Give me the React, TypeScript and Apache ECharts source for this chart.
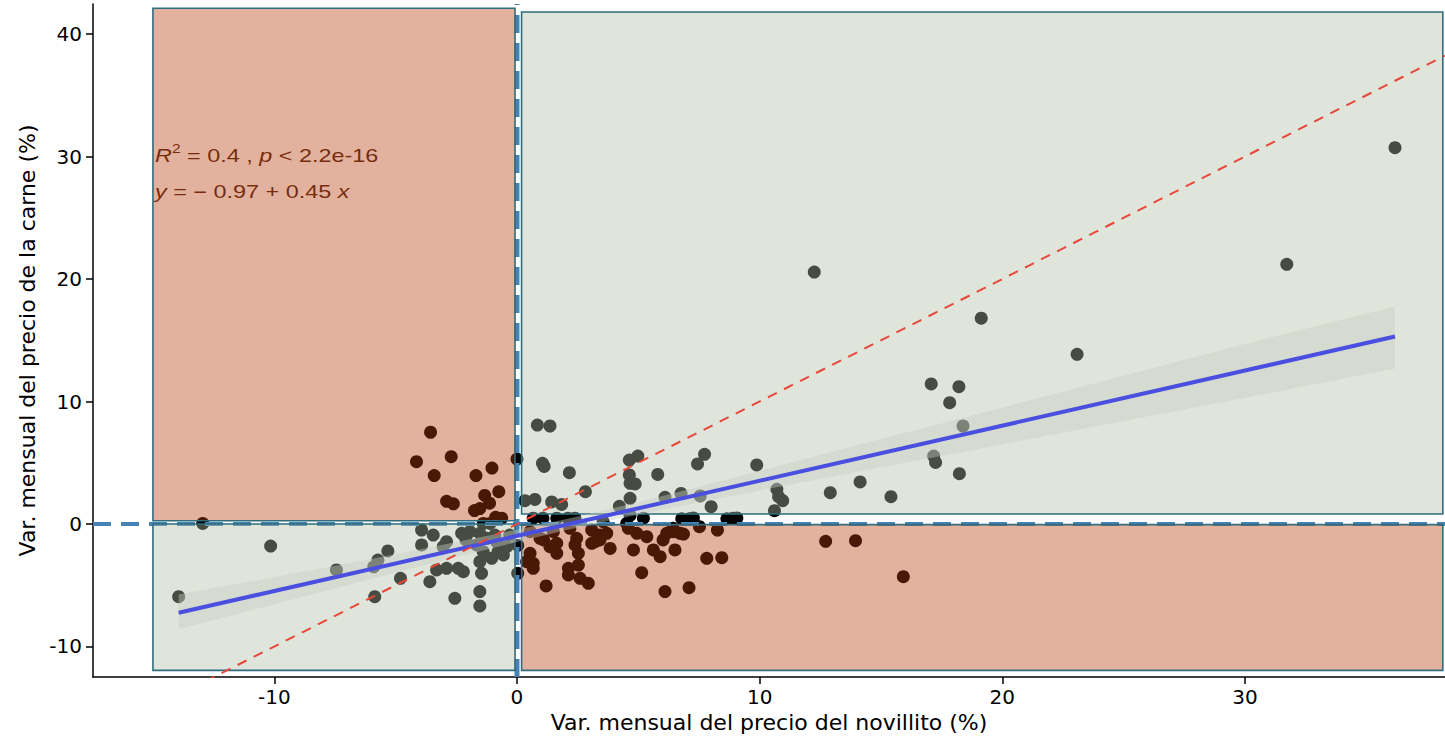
import React, { useEffect, useRef } from "react";
import * as echarts from "echarts";

// ---- data ----
const xTicks = [-10, 0, 10, 20, 30];
const yTicks = [-10, 0, 10, 20, 30, 40];
const xRange = [-17.47, 38.24];
const yRange = [-12.49, 42.45];

// [var. novillito %, var. carne %]
const points: [number, number][] = [
  [-13.94, -5.93], [-12.95, 0.05], [-10.15, -1.8], [-7.44, -3.75], [-5.73, -2.94], [-5.32, -2.2],
  [-5.9, -3.5], [-5.86, -5.93], [-4.8, -4.43],
  [-3.56, 7.49], [-4.14, 5.09], [-2.71, 5.5], [-3.41, 3.95], [-1.69, 3.95], [-1.03, 4.57], [-2.9, 1.85],
  [-2.62, 1.65], [-1.75, 1.1], [-1.53, 1.26], [-1.33, 2.33], [-1.13, 1.7], [-0.75, 2.64], [-0.88, 0.55],
  [-0.63, 0.47],
  [-1.39, 0.05], [-1.11, 0.05],
  [0.0, 5.3], [0.03, -4.03], [0.03, -1.75],
  [-3.93, -0.49], [-3.45, -0.9], [-3.93, -1.71], [-2.9, -1.44], [-3.04, -1.85], [-2.28, -0.76],
  [-1.94, -0.63], [-1.53, -0.76], [-1.25, -1.17], [-0.84, -1.44], [-0.42, -1.85], [-1.66, -1.71],
  [-1.39, -2.26], [-1.04, -2.8], [-0.56, -2.53], [-1.53, -3.08], [-1.46, -4.03], [-3.31, -3.75],
  [-2.9, -3.62], [-2.42, -3.62], [-2.21, -3.89], [-3.59, -4.71], [-2.56, -6.07], [-1.53, -5.52],
  [-1.53, -6.69], [-0.78, -2.26], [-0.91, -0.9], [-2.1, -1.3], [-0.3, -0.9],
  [0.84, 8.08], [1.36, 8.0], [1.05, 4.95], [1.12, 4.7], [2.16, 4.19], [4.63, 5.22], [4.98, 5.55],
  [4.63, 4.0], [4.66, 3.32], [4.87, 3.27], [5.8, 4.05], [2.82, 2.64], [0.33, 1.9], [0.74, 2.01],
  [1.43, 1.8], [1.84, 1.6], [4.66, 2.1], [4.22, 1.44], [7.73, 5.69], [7.44, 4.9], [9.88, 4.82],
  [6.1, 2.18], [6.76, 2.5], [7.55, 2.29], [8.0, 1.41], [10.71, 2.83], [10.78, 2.23], [10.95, 1.9],
  [10.61, 1.09], [12.91, 2.56], [14.14, 3.43], [15.41, 2.23], [17.07, 11.43], [18.21, 11.21],
  [17.83, 9.9], [18.38, 8.0], [17.17, 5.55], [17.25, 5.03], [18.23, 4.11], [12.25, 20.57],
  [19.13, 16.8], [23.08, 13.85], [31.72, 21.2], [36.18, 30.72],
  [0.67, 0.47], [1.07, 0.47], [1.64, 0.47], [2.1, 0.47], [2.39, 0.47], [3.55, 0.19], [4.52, 0.05],
  [5.21, 0.47], [4.66, 0.7], [6.79, 0.42], [7.1, 0.42], [7.27, 0.5], [8.65, 0.42], [8.9, 0.47],
  [9.06, 0.5],
  [0.54, -0.63], [0.95, -1.17], [1.5, -0.63], [1.64, -1.58], [1.36, -1.85], [1.64, -2.39],
  [2.18, -0.35], [2.46, -1.17], [2.39, -1.71], [2.53, -2.39], [3.08, -0.49], [3.08, -1.58],
  [3.42, -1.3], [3.7, -0.76], [3.84, -1.99], [0.54, -2.39], [0.67, -3.21], [0.67, -3.62],
  [2.12, -3.62], [2.12, -4.16], [2.53, -3.35], [2.6, -4.43], [2.94, -4.84], [1.2, -5.06],
  [4.59, -0.35], [4.8, -2.12], [4.94, -0.76], [5.35, -1.04], [5.62, -2.12], [5.9, -2.67],
  [6.17, -0.76], [6.45, -0.63], [6.51, -2.12], [5.14, -3.97], [6.1, -5.52], [0.4, -3.08],
  [6.72, -0.76], [6.86, -0.82], [7.52, -0.22], [8.26, -0.49], [7.82, -2.8], [8.44, -2.75],
  [7.09, -5.2], [6.02, -1.3], [6.43, -0.35], [12.72, -1.41], [13.95, -1.36], [15.92, -4.3],
  [3.22, -1.44], [1.1, -1.3], [3.42, -0.9],
];

// regression fit and its confidence band
const regX = [-13.94, 36.18];
const regY = [-7.24, 15.31];
const bandX = [-13.94, -10, -5, 0, 2, 5, 10, 15, 20, 25, 30, 36.18];
const bandLow = [-8.6, -6.55, -3.95, -1.47, -0.52, 0.78, 2.73, 4.63, 6.5, 8.4, 10.3, 12.7];
const bandHigh = [-5.75, -4.35, -2.47, -0.47, 0.38, 1.78, 4.33, 6.93, 9.5, 12.1, 14.7, 17.75];

// quadrant rectangles
const rectXMin = [-15, 0.19, -15, 0.19];
const rectXMax = [-0.08, 38.15, -0.08, 38.15];
const rectYMin = [0.26, 0.82, -11.95, -11.95];
const rectYMax = [42.1, 41.8, 0.0, -0.05];
const rectKind = ["bad", "good", "good", "bad"];

const FILL: Record<string, string> = {
  bad: "rgba(185,62,15,0.4)",
  good: "rgba(175,190,163,0.4)",
};

export default function App() {
  const ref = useRef<HTMLDivElement>(null);
  useEffect(() => {
    if (!ref.current) return;
    const chart = echarts.init(ref.current, null, { renderer: "svg" });
    const rectData = rectXMin.map((v, i) => [v, rectXMax[i], rectYMin[i], rectYMax[i]]);
    const bandPoly = [
      ...bandX.map((x, i) => [x, bandHigh[i]]),
      ...bandX.map((x, i) => [x, bandLow[i]]).reverse(),
    ];
    const font = "DejaVu Sans";
    const annFont = "Liberation Sans";
    const annColor = "#4a1e0c";
    chart.setOption({
      animation: false,
      grid: { left: 93, right: 0, top: 4, bottom: 66 },
      xAxis: {
        type: "value",
        min: xRange[0],
        max: xRange[1],
        name: "Var. mensual del precio del novillito (%)",
        nameLocation: "middle",
        nameGap: 33,
        nameTextStyle: { fontFamily: font, fontSize: 22, color: "#000" },
        axisLine: { onZero: false, lineStyle: { color: "#000", width: 1.5 } },
        axisTick: { show: true, customValues: xTicks, length: 7, lineStyle: { color: "#000", width: 1.5 } },
        axisLabel: { customValues: xTicks, fontFamily: font, fontSize: 20, color: "#000", margin: 10 },
        splitLine: { show: false },
      },
      yAxis: {
        type: "value",
        min: yRange[0],
        max: yRange[1],
        name: "Var. mensual del precio de la carne (%)",
        nameLocation: "middle",
        nameGap: 55,
        nameTextStyle: { fontFamily: font, fontSize: 22, color: "#000" },
        axisLine: { show: true, onZero: false, lineStyle: { color: "#000", width: 1.5 } },
        axisTick: { show: true, customValues: yTicks, length: 7, lineStyle: { color: "#000", width: 1.5 } },
        axisLabel: { customValues: yTicks, fontFamily: font, fontSize: 20, color: "#000", margin: 11 },
        splitLine: { show: false },
      },
      series: [
        {
          type: "scatter",
          z: 2,
          data: points,
          symbolSize: 13,
          itemStyle: { color: "#000", opacity: 1 },
          silent: true,
        },
        {
          type: "line",
          z: 3,
          data: [[0, yRange[0]], [0, yRange[1]]],
          symbol: "none",
          lineStyle: { color: "#4682b4", width: 5, type: [18, 10] },
          silent: true,
        },
        {
          type: "line",
          z: 3,
          data: [[xRange[0], 0], [xRange[1], 0]],
          symbol: "none",
          lineStyle: { color: "#4682b4", width: 4, type: [18, 10] },
          silent: true,
        },
        {
          type: "custom",
          z: 4,
          silent: true,
          data: rectData,
          encode: { x: [0, 1], y: [2, 3] },
          renderItem: (params: any, api: any) => {
            const p1 = api.coord([api.value(0), api.value(3)]);
            const p2 = api.coord([api.value(1), api.value(2)]);
            return {
              type: "rect",
              shape: { x: p1[0], y: p1[1], width: p2[0] - p1[0], height: p2[1] - p1[1] },
              style: { fill: FILL[rectKind[params.dataIndex]], stroke: "#2f6c7e", lineWidth: 1.6 },
            };
          },
        },
        {
          type: "custom",
          z: 5,
          silent: true,
          data: [[bandX[0], bandLow[0]]],
          renderItem: (_params: any, api: any) => ({
            type: "polygon",
            shape: { points: bandPoly.map((p) => api.coord(p)) },
            style: { fill: "rgba(199,205,195,0.42)", stroke: "none" },
          }),
        },
        {
          type: "line",
          z: 6,
          data: regX.map((x, i) => [x, regY[i]]),
          symbol: "none",
          lineStyle: { color: "#4a4fe0", width: 4 },
          silent: true,
        },
        {
          type: "line",
          z: 7,
          data: [[xRange[0], xRange[0]], [xRange[1], xRange[1]]],
          symbol: "none",
          lineStyle: { color: "#e8473b", width: 2, type: [10, 8] },
          silent: true,
        },
      ],
      graphic: [
        {
          type: "group",
          x: 155,
          y: 143,
          scaleX: 1.3,
          z: 100,
          children: [
            {
              type: "text",
              x: 0,
              y: 0,
              style: {
                text: "{i|R}{sup|2}{n| = 0.4 , }{i|p}{n| < 2.2e-16}",
                fill: annColor,
                rich: {
                  i: { fontFamily: annFont, fontSize: 18, fontStyle: "italic", fill: annColor, lineHeight: 22, verticalAlign: "bottom" },
                  n: { fontFamily: annFont, fontSize: 18, fill: annColor, lineHeight: 22, verticalAlign: "bottom" },
                  sup: { fontFamily: annFont, fontSize: 12, fill: annColor, lineHeight: 22, verticalAlign: "top" },
                },
              },
            },
            {
              type: "text",
              x: 0,
              y: 38,
              style: {
                text: "{i|y}{n| = − 0.97 + 0.45 }{i|x}",
                fill: annColor,
                rich: {
                  i: { fontFamily: annFont, fontSize: 18, fontStyle: "italic", fill: annColor, lineHeight: 22 },
                  n: { fontFamily: annFont, fontSize: 18, fill: annColor, lineHeight: 22 },
                },
              },
            },
          ],
        },
      ],
    });
    return () => chart.dispose();
  }, []);
  return (
    <div
      ref={ref}
      style={{ position: "fixed", left: 0, top: 0, width: 1445, height: 743, background: "#fff" }}
    />
  );
}
